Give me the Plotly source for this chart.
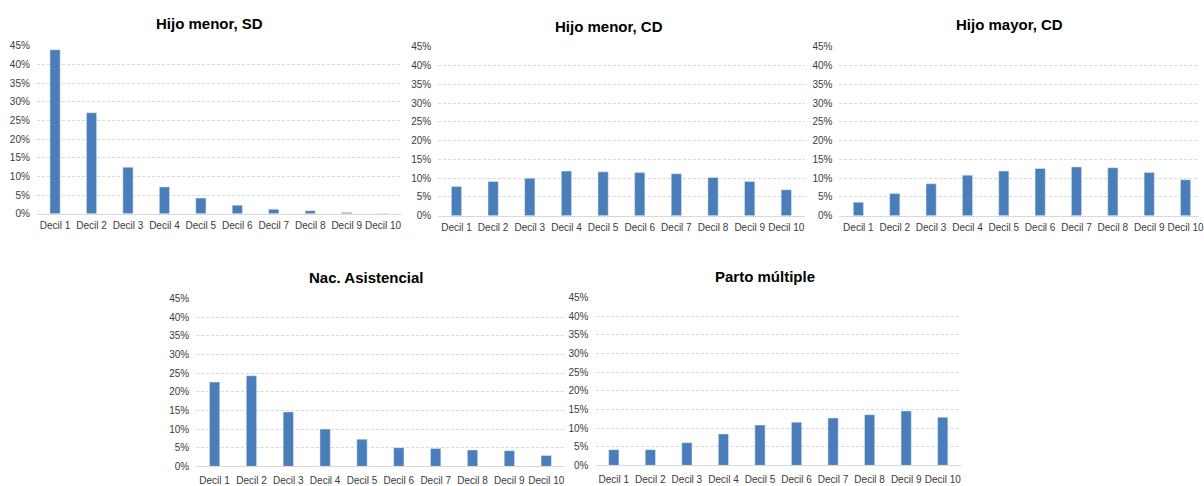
import plotly.graph_objects as go

deciles = ["Decil 1", "Decil 2", "Decil 3", "Decil 4", "Decil 5",
           "Decil 6", "Decil 7", "Decil 8", "Decil 9", "Decil 10"]

hijo_menor_sd = [0.440, 0.271, 0.125, 0.072, 0.042, 0.023, 0.012, 0.008, 0.003, 0.0005]
hijo_menor_cd = [0.078, 0.091, 0.100, 0.119, 0.117, 0.115, 0.112, 0.102, 0.091, 0.069]
hijo_mayor_cd = [0.036, 0.059, 0.085, 0.108, 0.119, 0.126, 0.130, 0.128, 0.115, 0.096]
nac_asistencial = [0.226, 0.243, 0.146, 0.100, 0.073, 0.050, 0.048, 0.044, 0.042, 0.029]
parto_multiple = [0.042, 0.042, 0.061, 0.084, 0.108, 0.116, 0.127, 0.136, 0.146, 0.129]

titles = ["Hijo menor, SD", "Hijo menor, CD", "Hijo mayor, CD",
          "Nac. Asistencial", "Parto múltiple"]
series = [hijo_menor_sd, hijo_menor_cd, hijo_mayor_cd, nac_asistencial, parto_multiple]

W, H = 1204, 486
# plot boxes in pixels: (left, right, y of 0%, y of 45%)
boxes = [
    (37, 403, 213, 41),
    (440, 808, 215, 42),
    (843, 1204, 215, 42),
    (197, 567, 472, 300),
    (598, 965, 471, 299),
]
x_ranges = [
    [-0.5, 9.5],
    [-0.5, 9.5],
    [-0.52, 9.37],
    [-0.5, 9.5],
    [-0.5, 9.5],
]
x_standoff = [2, 2, 2, 5, 5]
title_pos = [(210, 18), (612, 21), (1014, 19), (368, 278), (768, 277)]

BAR = "#4A7EBB"
GRID = "#D9D9D9"
TXT = "#3A3A3A"
FONT = "Liberation Sans, Arial, sans-serif"

fig = go.Figure()
layout = dict(
    width=W, height=H,
    margin=dict(l=0, r=0, t=0, b=0),
    paper_bgcolor="white", plot_bgcolor="white",
    showlegend=False,
    bargap=0.72,
    font=dict(family=FONT, size=10, color=TXT),
    annotations=[],
)

for i, (vals, title) in enumerate(zip(series, titles)):
    n = "" if i == 0 else str(i + 1)
    fig.add_trace(go.Bar(x=deciles, y=vals, marker_color=BAR,
                         xaxis="x" + n, yaxis="y" + n))
    left, right, y0, y45 = boxes[i]
    layout["xaxis" + n] = dict(
        domain=[left / W, right / W], anchor="y" + n,
        range=x_ranges[i], showgrid=False, showline=True,
        linecolor=GRID, linewidth=1, ticks="", zeroline=False,
        ticklabelstandoff=x_standoff[i],
        tickfont=dict(size=10, color=TXT), fixedrange=True,
    )
    layout["yaxis" + n] = dict(
        domain=[(H - y0) / H, (H - y45) / H], anchor="x" + n,
        range=[0, 0.45], dtick=0.05, tickformat=".0%",
        showgrid=True, gridcolor=GRID, griddash="3px,2px", gridwidth=1,
        zeroline=False, showline=False, ticks="",
        ticklabelstandoff=6,
        tickfont=dict(size=10, color=TXT), fixedrange=True,
    )
    tx, ty = title_pos[i]
    layout["annotations"].append(dict(
        text="<b>" + title + "</b>", x=tx / W, y=(H - ty) / H,
        xref="paper", yref="paper", showarrow=False,
        xanchor="center", yanchor="middle",
        font=dict(family=FONT, size=15, color="black"),
    ))

fig.update_layout(**layout)
fig.write_html("out.html")
